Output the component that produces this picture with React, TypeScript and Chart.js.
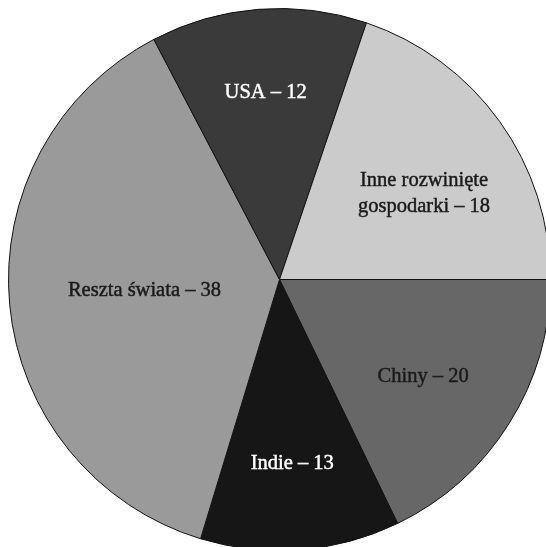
import React, { useEffect, useRef } from "react";
import { Chart, registerables } from "chart.js";

Chart.register(...registerables);

// Slices clockwise from 3 o'clock
const categories = ["Chiny", "Indie", "Reszta świata", "USA", "Inne rozwinięte gospodarki"];
// Slice sizes as drawn in the picture
const sliceValues = [18, 12, 38, 13, 20];
// Numbers printed in the labels
const labelNumbers = [20, 13, 38, 12, 18];
const labelLines = [
  ["Chiny – 20"],
  ["Indie – 13"],
  ["Reszta świata – 38"],
  ["USA – 12"],
  ["Inne rozwinięte", "gospodarki – 18"],
];
const sliceColors = ["#676767", "#161616", "#9a9a9a", "#3a3a3a", "#cbcbcb"];
const labelColors = ["#1a1a1a", "#ffffff", "#1a1a1a", "#ffffff", "#1a1a1a"];
// label placement: fraction of radius, angle offset (degrees)
const labelRadius = [0.64, 0.68, 0.5, 0.69, 0.62];
const labelAngleOffset = [2, 0.5, 0.7, 0.2, 5];

const labelPlugin = {
  id: "sliceLabels",
  afterDatasetsDraw(chart: any) {
    const ctx = chart.ctx;
    const meta = chart.getDatasetMeta(0);
    ctx.save();
    ctx.font = "20.5px 'Liberation Serif', 'DejaVu Serif', serif";
    ctx.textAlign = "center";
    ctx.textBaseline = "middle";
    ctx.lineWidth = 0.45;
    meta.data.forEach((arc: any, i: number) => {
      const { x, y, startAngle, endAngle, outerRadius } = arc.getProps(
        ["x", "y", "startAngle", "endAngle", "outerRadius"],
        true
      );
      const mid = (startAngle + endAngle) / 2 + (labelAngleOffset[i] * Math.PI) / 180;
      const r = outerRadius * labelRadius[i];
      const cx = x + Math.cos(mid) * r;
      const cy = y + Math.sin(mid) * r;
      const lines = labelLines[i];
      const lh = 26;
      ctx.fillStyle = labelColors[i];
      ctx.strokeStyle = labelColors[i];
      lines.forEach((ln, k) => {
        const ty = cy + (k - (lines.length - 1) / 2) * lh;
        ctx.fillText(ln, cx, ty);
        ctx.strokeText(ln, cx, ty);
      });
    });
    ctx.restore();
  },
};

export default function App() {
  const ref = useRef<HTMLCanvasElement>(null);
  useEffect(() => {
    if (!ref.current) return;
    const chart = new Chart(ref.current, {
      type: "pie",
      data: {
        labels: categories,
        datasets: [
          {
            data: sliceValues,
            backgroundColor: sliceColors,
            borderColor: "#111111",
            borderWidth: 1,
          },
        ],
      },
      options: {
        animation: false,
        responsive: false,
        devicePixelRatio: 1,
        rotation: 90,
        layout: { padding: 0 },
        plugins: {
          legend: { display: false },
          tooltip: { enabled: false },
        },
      },
      plugins: [labelPlugin],
    });
    return () => chart.destroy();
  }, []);
  return (
    <div style={{ position: "fixed", left: 8, top: 8, width: 543, height: 543 }}>
      <canvas ref={ref} width={543} height={543} data-numbers={labelNumbers.join(",")} />
    </div>
  );
}
